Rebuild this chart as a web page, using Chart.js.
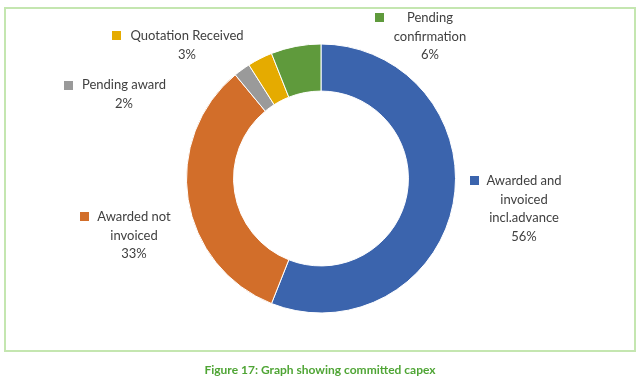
<!DOCTYPE html>
<html><head><meta charset="utf-8">
<script src="https://cdn.jsdelivr.net/npm/chart.js@4/dist/chart.umd.min.js"></script>
<style>
html,body{margin:0;padding:0;background:#fff;}
#wrap{position:relative;width:640px;height:386px;overflow:hidden;}
#frame{position:absolute;left:4px;top:7px;width:628px;height:341px;border:2px solid #c4e6b0;}
#c{position:absolute;left:0;top:0;}
#cap{position:absolute;left:0;top:362px;width:640px;text-align:center;font:bold 12px Lato, sans-serif;color:#4fa535;}
</style></head>
<body>
<div id="wrap">
<div id="frame"></div>
<canvas id="c" width="640" height="386"></canvas>
<div id="cap">Figure 17: Graph showing committed capex</div>
</div>
<script>
// Data
const categories = [
  ["Awarded and", "invoiced", "incl.advance"],
  ["Awarded not", "invoiced"],
  ["Pending award"],
  ["Quotation Received"],
  ["Pending", "confirmation"]
];
const shares = [56, 33, 2, 3, 6];
const sliceColors = ["#3b64ad", "#d26e2a", "#9a9a9a", "#e5ab00", "#5f9a3c"];

// Label placement (page pixels): marker left/top, text centre x, first line centre y
const labelPlacement = [
  {mx: 470, my: 176, cx: 524, y: 181},
  {mx: 80,  my: 212, cx: 134, y: 217},
  {mx: 64,  my: 81,  cx: 124, y: 85},
  {mx: 112, my: 31,  cx: 187, y: 36},
  {mx: 375, my: 13,  cx: 430, y: 18}
];

const outsideLabels = {
  id: 'outsideLabels',
  afterDraw(chart) {
    const ctx = chart.ctx;
    const ds = chart.data.datasets[0];
    const total = ds.data.reduce((a, b) => a + b, 0);
    ctx.save();
    ctx.font = '13px Lato, sans-serif';
    ctx.textAlign = 'center';
    ctx.textBaseline = 'middle';
    chart.data.labels.forEach((lab, i) => {
      const p = labelPlacement[i];
      const lines = (Array.isArray(lab) ? lab.slice() : [lab]);
      lines.push(Math.round(ds.data[i] / total * 100) + '%');
      ctx.fillStyle = ds.backgroundColor[i];
      ctx.fillRect(p.mx, p.my, 9, 9);
      ctx.fillStyle = '#404040';
      lines.forEach((t, k) => ctx.fillText(t, p.cx, p.y + k * 18.5));
    });
    ctx.restore();
  }
};

new Chart(document.getElementById('c'), {
  type: 'doughnut',
  data: {
    labels: categories,
    datasets: [{
      data: shares,
      backgroundColor: sliceColors,
      borderColor: '#ffffff',
      borderWidth: 1
    }]
  },
  options: {
    responsive: false,
    animation: false,
    cutout: '65%',
    rotation: 0,
    layout: {padding: {left: 186, right: 184, top: 43, bottom: 72}},
    plugins: {legend: {display: false}, tooltip: {enabled: false}}
  },
  plugins: [outsideLabels]
});
</script>
</body></html>
